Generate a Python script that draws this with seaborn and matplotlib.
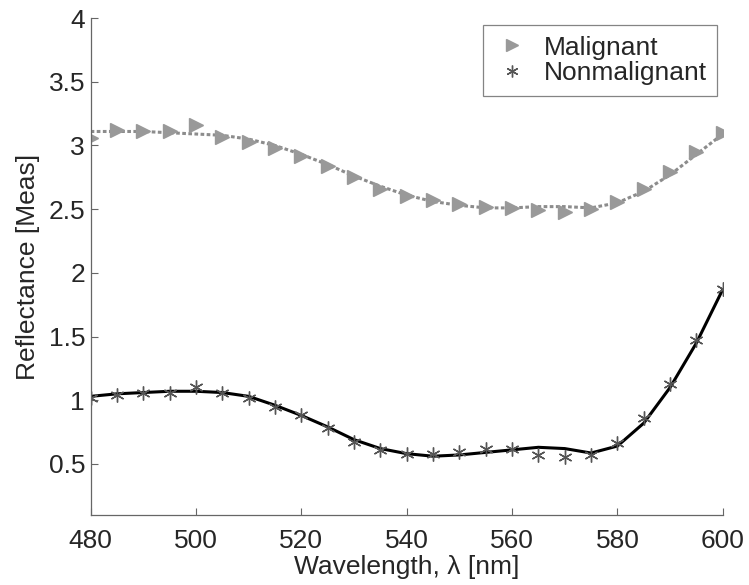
import matplotlib
matplotlib.use('Agg')
import matplotlib.pyplot as plt
import numpy as np
import pandas as pd
import seaborn as sns

wavelength = [480, 485, 490, 495, 500, 505, 510, 515, 520, 525, 530, 535,
              540, 545, 550, 555, 560, 565, 570, 575, 580, 585, 590, 595, 600]

malignant = [3.06, 3.12, 3.11, 3.11, 3.16, 3.07, 3.03, 2.98, 2.92, 2.84, 2.75, 2.66,
             2.60, 2.57, 2.54, 2.52, 2.51, 2.49, 2.48, 2.50, 2.56, 2.66, 2.79, 2.95, 3.10]
malignant_fit = [3.11, 3.11, 3.11, 3.10, 3.09, 3.08, 3.05, 3.00, 2.93, 2.85, 2.76, 2.68,
                 2.61, 2.56, 2.53, 2.51, 2.51, 2.52, 2.52, 2.51, 2.55, 2.64, 2.77, 2.93, 3.09]

nonmalignant = [1.02, 1.04, 1.06, 1.06, 1.10, 1.06, 1.02, 0.95, 0.88, 0.78, 0.67, 0.61,
                0.58, 0.58, 0.59, 0.62, 0.62, 0.57, 0.55, 0.57, 0.66, 0.86, 1.13, 1.47, 1.87]
nonmalignant_fit = [1.03, 1.05, 1.06, 1.07, 1.07, 1.06, 1.03, 0.96, 0.88, 0.79, 0.69, 0.62,
                    0.58, 0.56, 0.57, 0.59, 0.61, 0.63, 0.62, 0.585, 0.64, 0.82, 1.10, 1.45, 1.87]

x_ticks = [480, 500, 520, 540, 560, 580, 600]
y_ticks = [0.5, 1, 1.5, 2, 2.5, 3, 3.5, 4]
y_tick_labels = ['0.5', '1', '1.5', '2', '2.5', '3', '3.5', '4']

df = pd.DataFrame({
    'wavelength': wavelength,
    'malignant': malignant,
    'malignant_fit': malignant_fit,
    'nonmalignant': nonmalignant,
    'nonmalignant_fit': nonmalignant_fit,
})

sns.set_style('ticks')
plt.rcParams['font.family'] = ['Liberation Sans', 'DejaVu Sans']
plt.rcParams['xtick.direction'] = 'in'
plt.rcParams['ytick.direction'] = 'in'

fig = plt.figure(figsize=(7.49, 5.85), dpi=100)
ax = fig.add_axes([0.121, 0.120, 0.844, 0.849])

sns.lineplot(data=df, x='wavelength', y='malignant_fit', ax=ax, color='#8c8c8c',
             linestyle=(0, (1.2, 0.8)), linewidth=2.2, legend=False)
sns.lineplot(data=df, x='wavelength', y='nonmalignant_fit', ax=ax, color='black',
             linewidth=2.2, legend=False)

ax.plot(df['wavelength'], df['malignant'], linestyle='none', marker='>',
        markersize=10, color='#999999', markeredgecolor='#999999', label='Malignant')
ax.plot(df['wavelength'], df['nonmalignant'], linestyle='none', marker=(6, 2, 0),
        markersize=10, color='#555555', markeredgewidth=1.0, label='Nonmalignant')

ax.set_xlim(480, 600)
ax.set_ylim(0.1, 4)
ax.set_xticks(x_ticks)
ax.set_yticks(y_ticks)
ax.set_yticklabels(y_tick_labels)
ax.tick_params(labelsize=19, length=5, width=0.8, color='#666666')
ax.tick_params(axis='x', pad=10)
ax.tick_params(axis='y', pad=4)

ax.set_xlabel('Wavelength, λ [nm]', fontsize=19, labelpad=2)
ax.set_ylabel('Reflectance [Meas]', fontsize=19, labelpad=6)

sns.despine(ax=ax)
for side in ['left', 'bottom']:
    ax.spines[side].set_color('#666666')
    ax.spines[side].set_linewidth(0.9)

leg = ax.legend(loc='upper right', fontsize=19, frameon=True, fancybox=False,
                handletextpad=0.5, borderpad=0.4, labelspacing=0.05,
                handlelength=1.4, borderaxespad=0, markerscale=0.85,
                bbox_to_anchor=(0.991, 0.986))
leg.get_frame().set_edgecolor('#666666')
leg.get_frame().set_linewidth(0.9)

fig.savefig('out.png', dpi=100)
